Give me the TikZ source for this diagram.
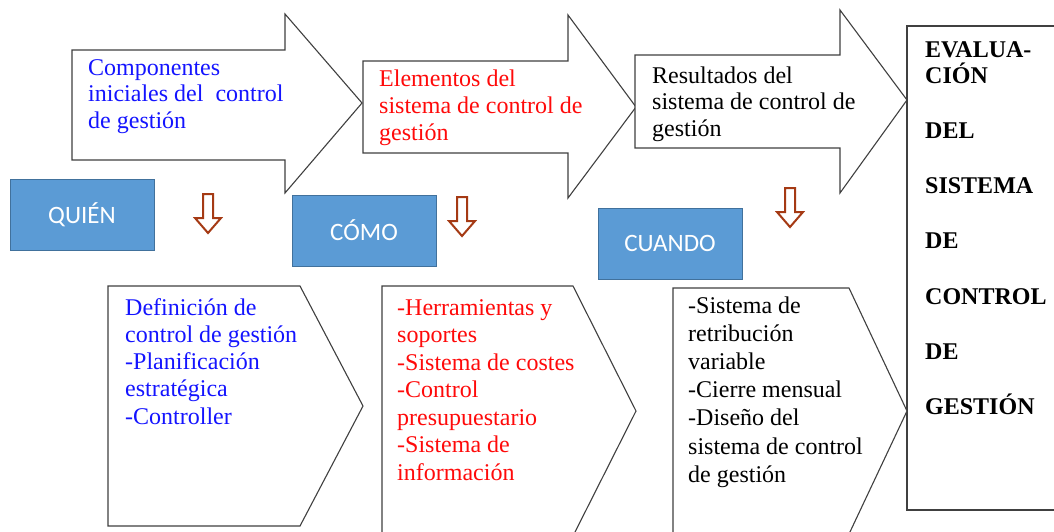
\documentclass[tikz,border=0pt]{standalone}
\usepackage{fontspec}
\setmainfont{Liberation Serif}
\newfontfamily\calib{Carlito}
\definecolor{edge}{HTML}{404040}
\definecolor{boxfill}{HTML}{5B9BD5}
\definecolor{boxline}{HTML}{41719C}
\definecolor{rust}{RGB}{165,58,20}
\definecolor{tblue}{RGB}{20,20,255}
\definecolor{tred}{RGB}{255,10,10}
\newcommand{\txtblock}[3]{\parbox[t]{#1}{\raggedright\fontsize{24}{#2}\selectfont\lineskiplimit=-100pt\relax #3}}
\tikzset{
  shp/.style={draw=edge, line width=1.1pt, fill=white, line join=miter},
  qbox/.style={draw=boxline, fill=boxfill, line width=1pt, text=white,
    minimum width=144pt, minimum height=71pt, inner sep=0pt,
    font=\calib\fontsize{25}{30}\selectfont},
  darrow/.style={draw=rust, line width=2pt, fill=white},
  txt/.style={anchor=base west, inner sep=0pt},
}
\begin{document}
\begin{tikzpicture}[x=1pt,y=-1pt]
\useasboundingbox (0,0) rectangle (1054,531);
\clip (0,0) rectangle (1054,531);
\fill[white] (0,0) rectangle (1054,531);

% top block arrows
\draw[shp] (72,50) -- (285,50) -- (285,14) -- (362,103) -- (285,193) -- (285,160) -- (72,160) -- cycle;
\draw[shp] (363,61) -- (568,61) -- (568,15) -- (636,107) -- (568,198) -- (568,153) -- (363,153) -- cycle;
\draw[shp] (635,55) -- (840,55) -- (840,10) -- (907,100) -- (840,193) -- (840,148) -- (635,148) -- cycle;

% big right box
\draw[shp] (907,26) rectangle (1080,510);

% lower chevrons
\draw[shp] (108,286) -- (300,286) -- (363,406) -- (300,526) -- (108,526) -- cycle;
\draw[shp] (382,286) -- (573,286) -- (636,411) -- (573,536) -- (382,536) -- cycle;
\draw[shp] (673,288) -- (849,288) -- (907,411) -- (849,534) -- (673,534) -- cycle;

% blue boxes
\node[qbox] (quien) at (82,214.5) {QUIÉN};
\node[qbox] (como) at (364,230.5) {CÓMO};
\node[qbox] (cuando) at (670,243.5) {CUANDO};

% down arrows
\foreach \cx/\ty in {208/194,462/197,790/188}
  \draw[darrow] (\cx-5,\ty) -- (\cx+5,\ty) -- (\cx+5,\ty+24) -- (\cx+13,\ty+24)
     -- (\cx,\ty+39) -- (\cx-13,\ty+24) -- (\cx-5,\ty+24) -- cycle;

% texts in top arrows
\node[txt, text=tblue] (t1) at (88,75) {\txtblock{220pt}{26.7}{Componentes\\iniciales del\ \ control\\de gestión}};
\node[txt, text=tred] (t2) at (379,86) {\txtblock{230pt}{27}{Elementos del\\sistema de control de\\gestión}};
\node[txt, text=black] (t3) at (652,83) {\txtblock{230pt}{26.5}{Resultados del\\sistema de control de\\gestión}};

% texts in lower chevrons
\node[txt, text=tblue] (b1) at (125,315) {\txtblock{220pt}{27.3}{Definición de\\control de gestión\\-Planificación\\estratégica\\-Controller}};
\node[txt, text=tred] (b2) at (397,315) {\txtblock{220pt}{27.5}{-Herramientas y\\soportes\\-Sistema de costes\\-Control\\presupuestario\\-Sistema de\\información}};
\node[txt, text=black] (b3) at (688,313) {\txtblock{220pt}{28.2}{-Sistema de\\retribución\\variable\\-Cierre mensual\\-Diseño del\\sistema de control\\de gestión}};

% big box text
\node[txt, text=black] (big) at (925,57) {\parbox[t]{140pt}{\raggedright\fontsize{24}{26}\selectfont\bfseries\lineskiplimit=-100pt\relax
EVALUA-\\CIÓN\\[29.5pt]DEL\\[29pt]SISTEMA\\[29pt]DE\\[30pt]CONTROL\\[29pt]DE\\[29pt]GESTIÓN}};
\end{tikzpicture}
\end{document}
